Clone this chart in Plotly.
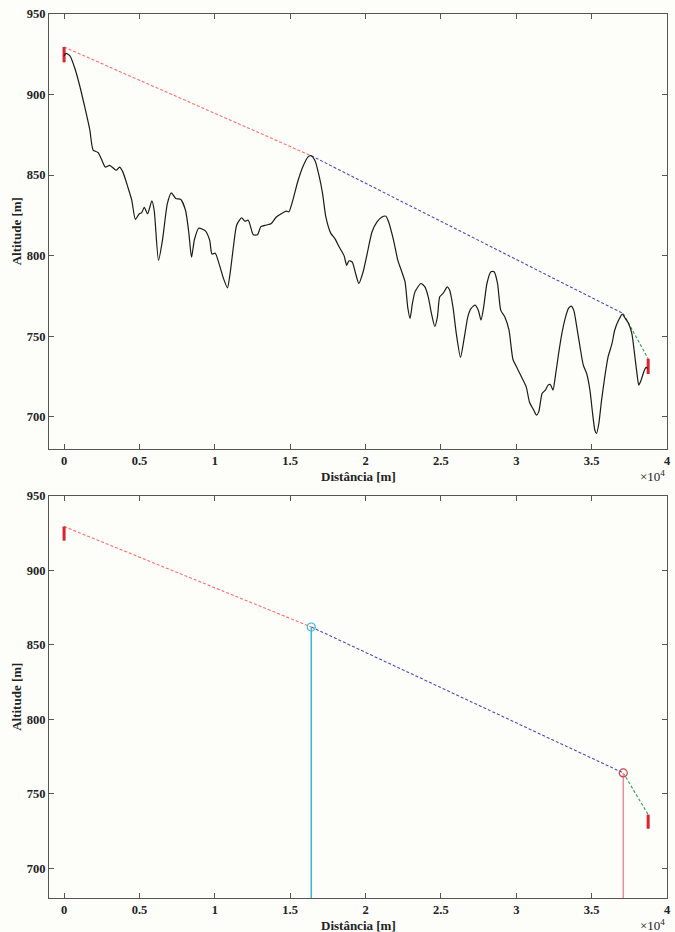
import plotly.graph_objects as go

# ---- data ----
dist = [0, 130, 394, 723, 1050, 1380, 1708, 1927, 2256, 2475, 2738, 3022, 3460, 3679, 3898,
        4226, 4489, 4730, 4993, 5146, 5322, 5540, 5826, 5979, 6264, 6527, 6855, 7118, 7403,
        7732, 8060, 8279, 8456, 8650, 8935, 9373, 9658, 9811, 10030, 10250, 10577, 10840,
        11016, 11235, 11453, 11782, 12000, 12220, 12549, 12834, 13054, 13422, 13751, 14080,
        14408, 14737, 14914, 15177, 15505, 15834, 16162, 16381, 16644, 16930, 17148, 17367,
        17696, 17958, 18246, 18574, 18750, 18902, 19119, 19338, 19557, 19841, 20104, 20433,
        20761, 21090, 21353, 21528, 21857, 22140, 22404, 22622, 22798, 22951, 23106, 23280,
        23675, 23937, 24160, 24375, 24593, 24769, 24923, 25142, 25425, 25578, 25801, 26020,
        26300, 26523, 26786, 27003, 27266, 27485, 27660, 27836, 28053, 28316, 28534, 28757,
        28973, 29236, 29519, 29782, 30070, 30399, 30661, 30879, 31163, 31340, 31491, 31714,
        31930, 32107, 32258, 32436, 32587, 32805, 33028, 33244, 33463, 33640, 33816, 34013,
        34230, 34448, 34670, 34887, 35040, 35215, 35327, 35478, 35655, 35872, 36088, 36351,
        36529, 36792, 37035, 37232, 37449, 37666, 37843, 38020, 38125, 38282, 38456, 38611,
        38716]
alt = [924, 925.6, 924, 916, 905, 892, 878, 865.5, 864, 860, 855, 856, 853, 855, 852,
       842.7, 834.5, 822.5, 826, 826.6, 830, 826, 834, 828, 797, 809.6, 832.4, 839, 835.5,
       835, 828, 814, 799, 810, 817, 815.4, 809.6, 801, 801.5, 796, 785.8, 780,
       789, 805.5, 819, 823.5, 821.4, 822, 813, 813, 818, 819, 820, 824,
       826, 827.6, 827.2, 834.5, 846, 855, 861, 862, 859, 849, 838.6, 824,
       813.8, 810.7, 805.5, 800, 794, 796.8, 796, 789, 782.7, 790, 801, 814.8,
       821, 824, 824.5, 821, 809.6, 797.2, 790, 783.7, 768, 761, 770, 777.5,
       782.7, 780.6, 774.4, 764, 756, 762, 774.4, 776.5, 780.6, 778.6, 768, 751.7,
       736.8, 747.5, 762, 767.2, 769.3, 766, 760, 768, 782.7, 790, 790, 782.7,
       766, 762, 753.7, 735.5, 730, 723.7, 718.5, 709, 704, 701, 703, 714.4,
       716.5, 719.6, 720, 716.5, 724.7, 739, 751.7, 761, 767.2, 768.6, 766, 755.8,
       743.3, 732, 726.8, 716.5, 704, 691.6, 689.6, 695.8, 710, 724.7, 737, 745.4,
       753.7, 760, 763.7, 761, 757.9, 751.7, 739.3, 725.8, 719.6, 722.7, 727.8, 730.6,
       730]

start_pt = (0, 929.5)
peak1 = (16400, 862)
peak2 = (37100, 764)
end_pt = (38750, 736)
start_bar = [920, 929.5]
end_bar = [726.5, 736]
y_floor = 680

x_ticks = [0, 5000, 10000, 15000, 20000, 25000, 30000, 35000, 40000]
x_labels = ["0", "0.5", "1", "1.5", "2", "2.5", "3", "3.5", "4"]
y_ticks = [700, 750, 800, 850, 900, 950]

RED_D = "#ff6b6b"
BLUE_D = "#4a4ab8"
GREEN_D = "#2fa04f"
BAR = "#e0202c"
CYAN = "#3cb6d8"
PINK = "#e58f9a"
FONT = "Liberation Serif"

fig = go.Figure()

def seg(x, y, color, dash, width, xa, ya):
    fig.add_trace(go.Scatter(x=x, y=y, mode="lines", xaxis=xa, yaxis=ya,
                             line=dict(color=color, dash=dash, width=width),
                             showlegend=False, hoverinfo="skip"))

for xa, ya in (("x", "y"), ("x2", "y2")):
    seg([start_pt[0], peak1[0]], [start_pt[1], peak1[1]], RED_D, "3px,2px", 1.1, xa, ya)
    seg([peak1[0], peak2[0]], [peak1[1], peak2[1]], BLUE_D, "3px,2px", 1.1, xa, ya)
    seg([peak2[0], end_pt[0]], [peak2[1], end_pt[1]], GREEN_D, "3px,2px", 1.1, xa, ya)
    seg([start_pt[0], start_pt[0]], start_bar, BAR, "solid", 3, xa, ya)
    seg([end_pt[0], end_pt[0]], end_bar, BAR, "solid", 3, xa, ya)

# profile on top panel
fig.add_trace(go.Scatter(x=dist, y=alt, mode="lines", xaxis="x", yaxis="y",
                         line=dict(color="#1a1a1a", width=1.2, shape="spline", smoothing=0.6),
                         showlegend=False))

# bottom panel verticals and circles
seg([peak1[0], peak1[0]], [y_floor, peak1[1]], CYAN, "solid", 1.5, "x2", "y2")
seg([peak2[0], peak2[0]], [y_floor, peak2[1]], PINK, "solid", 1.5, "x2", "y2")
fig.add_trace(go.Scatter(x=[peak1[0]], y=[peak1[1]], mode="markers", xaxis="x2", yaxis="y2",
                         marker=dict(symbol="circle-open", size=8, color=CYAN, line=dict(width=1.2)),
                         showlegend=False))
fig.add_trace(go.Scatter(x=[peak2[0]], y=[peak2[1]], mode="markers", xaxis="x2", yaxis="y2",
                         marker=dict(symbol="circle-open", size=8, color="#d0404f", line=dict(width=1.2)),
                         showlegend=False))

axis_common = dict(showline=True, linecolor="#555555", linewidth=1, mirror="allticks",
                   ticks="inside", ticklen=5, tickcolor="#555555", showgrid=False, zeroline=False,
                   tickfont=dict(family=FONT, size=12.5, color="#222222", weight="bold"))

xa = dict(axis_common, range=[-1000, 40000], tickvals=x_ticks, ticktext=x_labels)
ya = dict(axis_common, range=[y_floor, 950], tickvals=y_ticks)

top_dom = [0.508, 1.0]
bot_dom = [0.0, 0.4548]

fig.update_layout(
    width=675, height=932,
    margin=dict(l=49, r=4, t=14, b=34),
    paper_bgcolor="#fdfdfa", plot_bgcolor="#fdfdfa",
    xaxis=dict(xa, domain=[0, 1], anchor="y"),
    yaxis=dict(ya, domain=top_dom, anchor="x"),
    xaxis2=dict(xa, domain=[0, 1], anchor="y2"),
    yaxis2=dict(ya, domain=bot_dom, anchor="x2"),
    showlegend=False,
)

title_font = dict(family=FONT, size=13, color="#222222", weight="bold")
ann = []
for dom in (top_dom, bot_dom):
    ann.append(dict(text="Distância [m]", xref="paper", yref="paper", x=0.5, y=dom[0] - 0.031,
                    xanchor="center", yanchor="middle", showarrow=False, font=title_font))
    ann.append(dict(text="Altitude [m]", xref="paper", yref="paper", x=-0.052, y=(dom[0] + dom[1]) / 2,
                    xanchor="center", yanchor="middle", textangle=-90, showarrow=False, font=title_font))
    ann.append(dict(text="×10<sup>4</sup>", xref="paper", yref="paper", x=1.0, y=dom[0] - 0.0305,
                    xanchor="right", yanchor="middle", showarrow=False,
                    font=dict(family=FONT, size=13, color="#222222")))
fig.update_layout(annotations=ann)

fig.write_html("out.html")
